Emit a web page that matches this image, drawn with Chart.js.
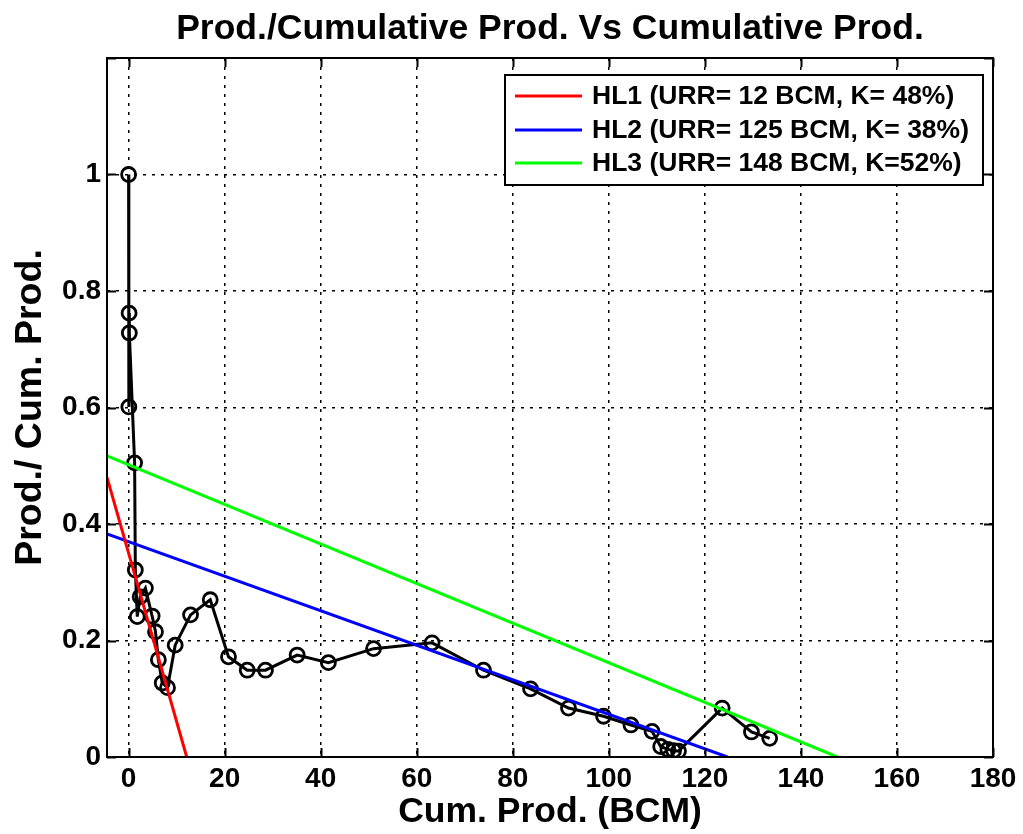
<!DOCTYPE html>
<html>
<head>
<meta charset="utf-8">
<script src="https://cdn.jsdelivr.net/npm/chart.js@4.4.1/dist/chart.umd.min.js"></script>
<style>
html,body{margin:0;padding:0;background:#fff;}
#wrap{width:1023px;height:834px;}
</style>
</head>
<body>
<div id="wrap"><canvas id="c" width="1023" height="834"></canvas></div>
<script>
// ---- data ----
const cumProd = [0, 0.05, 0.1, 0.15, 1.25, 1.4, 1.8, 2.4, 3.5, 4.9, 5.6, 6.2, 7.0, 8.1, 9.7, 12.9, 17.0, 20.8, 24.7, 28.5, 35.1, 41.6, 51.0, 63.2, 73.9, 83.7, 91.6, 98.9, 104.6, 109.0, 110.8, 112.3, 113.5, 114.5, 123.6, 129.7, 133.5];
const prodRatio = [1.0, 0.601, 0.762, 0.728, 0.505, 0.321, 0.241, 0.275, 0.290, 0.242, 0.215, 0.167, 0.127, 0.119, 0.192, 0.244, 0.270, 0.172, 0.149, 0.149, 0.175, 0.162, 0.186, 0.196, 0.149, 0.117, 0.084, 0.070, 0.055, 0.044, 0.018, 0.013, 0.011, 0.010, 0.084, 0.043, 0.032];

const hl1X = [-4.5, 12.1], hl1Y = [0.48, 0];
const hl2X = [-4.5, 124.7], hl2Y = [0.383, 0];
const hl3X = [-4.5, 147.6], hl3Y = [0.517, 0];

const seriesLabels = ['HL1 (URR= 12 BCM, K= 48%)', 'HL2 (URR= 125 BCM, K= 38%)', 'HL3 (URR= 148 BCM, K=52%)'];
const seriesColors = ['#ff0000', '#0000ff', '#00ff00'];

const xTickValues = [0, 20, 40, 60, 80, 100, 120, 140, 160, 180];
const yTickValues = [0, 0.2, 0.4, 0.6, 0.8, 1.0, 1.2];
const yTickLabels = ['0', '0.2', '0.4', '0.6', '0.8', '1', ''];

const titleText = 'Prod./Cumulative Prod. Vs Cumulative Prod.';
const xTitle = 'Cum. Prod. (BCM)';
const yTitle = 'Prod./ Cum. Prod.';

const toPts = (xs, ys) => xs.map((x, i) => ({x: x, y: ys[i]}));
const FONT = '"Liberation Sans", Arial, sans-serif';

const boxPlugin = {
  id: 'boxPlugin',
  afterDraw(chart) {
    const ctx = chart.ctx, a = chart.chartArea;
    const xs = chart.scales.x, ys = chart.scales.y;
    ctx.save();
    // title centred over the plot box
    ctx.fillStyle = '#000';
    ctx.font = 'bold 35.5px ' + FONT;
    ctx.textAlign = 'center';
    ctx.textBaseline = 'middle';
    ctx.fillText(titleText, (a.left + a.right) / 2, 29);

    ctx.strokeStyle = '#000';
    ctx.lineWidth = 2;
    ctx.beginPath();
    const tl = 9;
    xs.ticks.forEach(t => {
      const px = Math.round(xs.getPixelForValue(t.value)) + 0.5;
      ctx.moveTo(px, a.bottom); ctx.lineTo(px, a.bottom - tl);
      ctx.moveTo(px, a.top); ctx.lineTo(px, a.top + tl);
    });
    ys.ticks.forEach(t => {
      const py = Math.round(ys.getPixelForValue(t.value)) + 0.5;
      ctx.moveTo(a.left, py); ctx.lineTo(a.left + tl, py);
      ctx.moveTo(a.right, py); ctx.lineTo(a.right - tl, py);
    });
    ctx.stroke();
    ctx.strokeRect(a.left, a.top, a.right - a.left, a.bottom - a.top);

    // legend box
    const lw = 478, lh = 110;
    const lx = a.right - 10 - lw, ly = a.top + 17;
    ctx.fillStyle = '#fff';
    ctx.fillRect(lx, ly, lw, lh);
    ctx.lineWidth = 2;
    ctx.strokeRect(lx, ly, lw, lh);
    ctx.font = 'bold 26.5px ' + FONT;
    ctx.textBaseline = 'middle';
    ctx.textAlign = 'left';
    const rows = [21, 55, 88];
    chart.data.datasets.forEach((ds, i) => {
      if (!ds.inLegend) return;
      const y = ly + rows[i];
      ctx.strokeStyle = ds.borderColor;
      ctx.lineWidth = 3;
      ctx.beginPath();
      ctx.moveTo(lx + 10, y); ctx.lineTo(lx + 77, y);
      ctx.stroke();
      ctx.fillStyle = '#000';
      ctx.fillText(ds.label, lx + 87, y + 1);
    });
    ctx.restore();
  }
};

const lineDs = (i, xs, ys) => ({
  label: seriesLabels[i],
  inLegend: true,
  data: toPts(xs, ys),
  showLine: true,
  borderColor: seriesColors[i],
  backgroundColor: seriesColors[i],
  borderWidth: 3,
  pointRadius: 0,
  pointHoverRadius: 0
});

new Chart(document.getElementById('c'), {
  type: 'scatter',
  data: {
    datasets: [
      lineDs(0, hl1X, hl1Y),
      lineDs(1, hl2X, hl2Y),
      lineDs(2, hl3X, hl3Y),
      {
        label: 'Data',
        inLegend: false,
        data: toPts(cumProd, prodRatio),
        showLine: true,
        borderColor: '#000',
        backgroundColor: 'rgba(0,0,0,0)',
        borderWidth: 3,
        pointStyle: 'circle',
        pointRadius: 7,
        pointBorderWidth: 2.8,
        pointBorderColor: '#000',
        pointBackgroundColor: 'rgba(0,0,0,0)'
      }
    ]
  },
  options: {
    responsive: false,
    animation: false,
    devicePixelRatio: 1,
    layout: {padding: {left: 0, right: 30, top: 58, bottom: 0}},
    plugins: {
      legend: {display: false},
      tooltip: {enabled: false},
      title: {display: false}
    },
    scales: {
      x: {
        type: 'linear',
        min: -4.5,
        max: 180,
        afterBuildTicks: s => { s.ticks = xTickValues.map(v => ({value: v})); },
        afterFit: s => { s.height = 77; },
        ticks: {
          color: '#000',
          font: {family: FONT, size: 28, weight: 'bold'},
          padding: 5,
          maxRotation: 0,
          callback: v => String(v)
        },
        grid: {
          color: '#000',
          lineWidth: 1.5,
          drawTicks: false
        },
        border: {display: false, dash: [3, 6]},
        title: {
          display: true,
          text: xTitle,
          color: '#000',
          font: {family: FONT, size: 35.5, weight: 'bold'},
          padding: {top: 0, bottom: 0}
        }
      },
      y: {
        type: 'linear',
        min: 0,
        max: 1.2,
        afterBuildTicks: s => { s.ticks = yTickValues.map(v => ({value: v})); },
        afterFit: s => { s.width = 107; },
        ticks: {
          color: '#000',
          font: {family: FONT, size: 28, weight: 'bold'},
          padding: 6,
          callback: (v) => { const i = yTickValues.findIndex(t => Math.abs(t - v) < 1e-9); return i >= 0 ? yTickLabels[i] : ''; }
        },
        grid: {
          color: '#000',
          lineWidth: 1.5,
          drawTicks: false
        },
        border: {display: false, dash: [3, 6]},
        title: {
          display: true,
          text: yTitle,
          color: '#000',
          font: {family: FONT, size: 37.5, weight: 'bold'},
          padding: {top: 8, bottom: 0}
        }
      }
    }
  },
  plugins: [boxPlugin]
});
</script>
</body>
</html>
